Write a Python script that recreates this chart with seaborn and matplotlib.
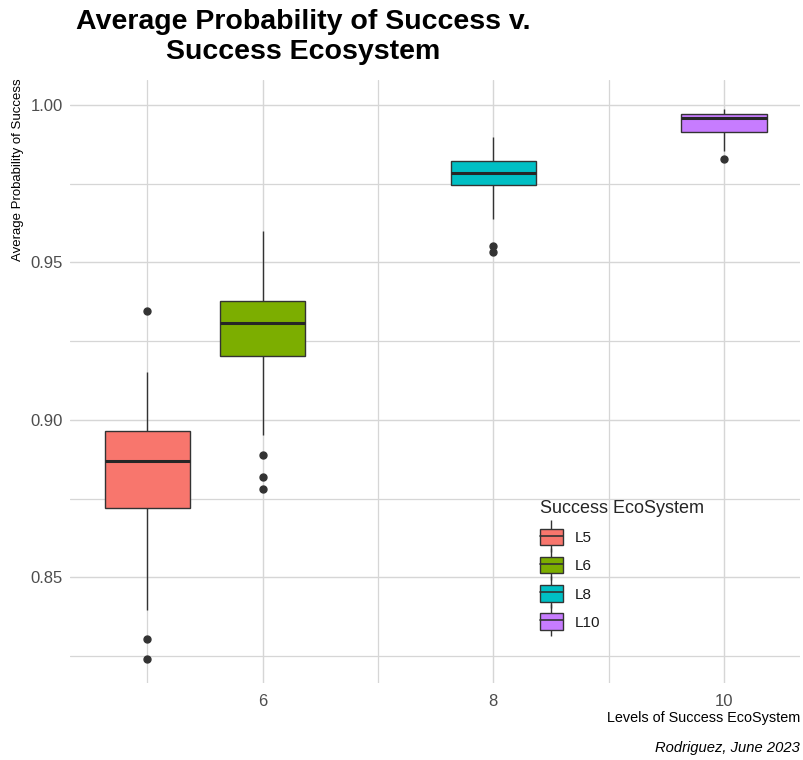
import numpy as np
import pandas as pd
import matplotlib
matplotlib.use("Agg")
import matplotlib.pyplot as plt
from matplotlib.ticker import FixedLocator
from matplotlib.patches import Patch
from matplotlib.lines import Line2D
from matplotlib.legend_handler import HandlerTuple
import seaborn as sns

# box summary, one entry per ecosystem level
levels = [5, 6, 8, 10]
groups = ["L5", "L6", "L8", "L10"]
colors = ["#F8766D", "#7CAE00", "#00BFC4", "#C77CFF"]
q1 = [0.8721, 0.9204, 0.9745, 0.9915]
med = [0.8871, 0.9309, 0.9785, 0.9957]
q3 = [0.8965, 0.9379, 0.9821, 0.9971]
whislo = [0.8397, 0.8953, 0.9638, 0.9855]
whishi = [0.9151, 0.9600, 0.9897, 0.9987]
outliers = [[0.9346, 0.8305, 0.8241],
            [0.8889, 0.8820, 0.8782],
            [0.9553, 0.9533],
            [0.9829]]

# long table for seaborn: each box rebuilt from its five numbers + outliers
k = 20
rows = []
for i in range(len(levels)):
    vals = outliers[i] + [whislo[i], whishi[i]] + [q1[i]] * k + [med[i]] * k + [q3[i]] * k
    for v in vals:
        rows.append((levels[i], groups[i], v))
df = pd.DataFrame(rows, columns=["level", "eco", "prob"])

sns.set_theme(style="whitegrid")
plt.rcParams["font.family"] = ["Liberation Sans", "DejaVu Sans"]

fig = plt.figure(figsize=(8.04, 7.6), dpi=100)
ax = fig.add_axes([70 / 804, 1 - 683 / 760, 730 / 804, 603 / 760])

sns.boxplot(data=df, x="level", y="prob", hue="eco", hue_order=groups,
            palette=dict(zip(groups, colors)), native_scale=True, dodge=False,
            width=0.74, linecolor="#333333", linewidth=1.0, saturation=1,
            showcaps=False, legend=False,
            medianprops=dict(linewidth=2.2, color="#262626"),
            flierprops=dict(marker="o", markersize=5, markerfacecolor="#333333",
                            markeredgecolor="#333333"),
            ax=ax)

ax.set_xlim(4.33, 10.66)
ax.set_ylim(0.8165, 1.0079)
ax.xaxis.set_major_locator(FixedLocator([6, 8, 10]))
ax.xaxis.set_minor_locator(FixedLocator([5, 7, 9]))
ax.yaxis.set_major_locator(FixedLocator([0.85, 0.90, 0.95, 1.00]))
ax.yaxis.set_minor_locator(FixedLocator([0.825, 0.875, 0.925, 0.975]))
ax.set_xticklabels(["6", "8", "10"])
ax.set_yticklabels(["0.85", "0.90", "0.95", "1.00"])
ax.grid(which="major", color="#d6d6d6", linewidth=1.0)
ax.grid(which="minor", color="#d6d6d6", linewidth=0.9)
ax.set_axisbelow(True)
ax.tick_params(axis="both", which="both", length=0, labelsize=12, labelcolor="#4D4D4D")
ax.tick_params(axis="y", pad=5)
ax.tick_params(axis="x", pad=8)
for s in ax.spines.values():
    s.set_visible(False)
ax.set_xlabel("")
ax.set_ylabel("")

# legend keys drawn like small boxplots (whisker, box, median)
handles = []
for c in colors:
    whisk = Line2D([], [], linestyle="none", marker="|", markersize=23,
                   markeredgewidth=1.0, color="#333333")
    box = Patch(facecolor=c, edgecolor="#333333", linewidth=1.0)
    mid = Line2D([], [], color="#333333", linewidth=1.2)
    handles.append((whisk, box, mid))
ax.legend(handles, groups, handler_map={tuple: HandlerTuple(ndivide=1, pad=0)},
          title="Success EcoSystem", loc="upper left", bbox_to_anchor=(0.625, 0.326),
          frameon=False, fontsize=11, title_fontsize=13, handlelength=1.5,
          handleheight=1.25, labelspacing=0.78, alignment="left", labelcolor="#1a1a1a")

fig.text(0.377, 0.988, "Average Probability of Success v.\nSuccess Ecosystem",
         ha="center", va="top", fontsize=20.5, fontweight="bold", linespacing=1.2,
         color="black")
fig.text(0.022, 0.897, "Average Probability of Success", rotation=90,
         ha="center", va="top", fontsize=9.5, color="black")
fig.text(0.995, 1 - 718 / 760, "Levels of Success EcoSystem",
         ha="right", va="center", fontsize=10.4, color="black")
fig.text(0.995, 1 - 748 / 760, "Rodriguez, June 2023",
         ha="right", va="center", fontsize=10.6, style="italic", color="black")

fig.savefig("out.png", dpi=100)
